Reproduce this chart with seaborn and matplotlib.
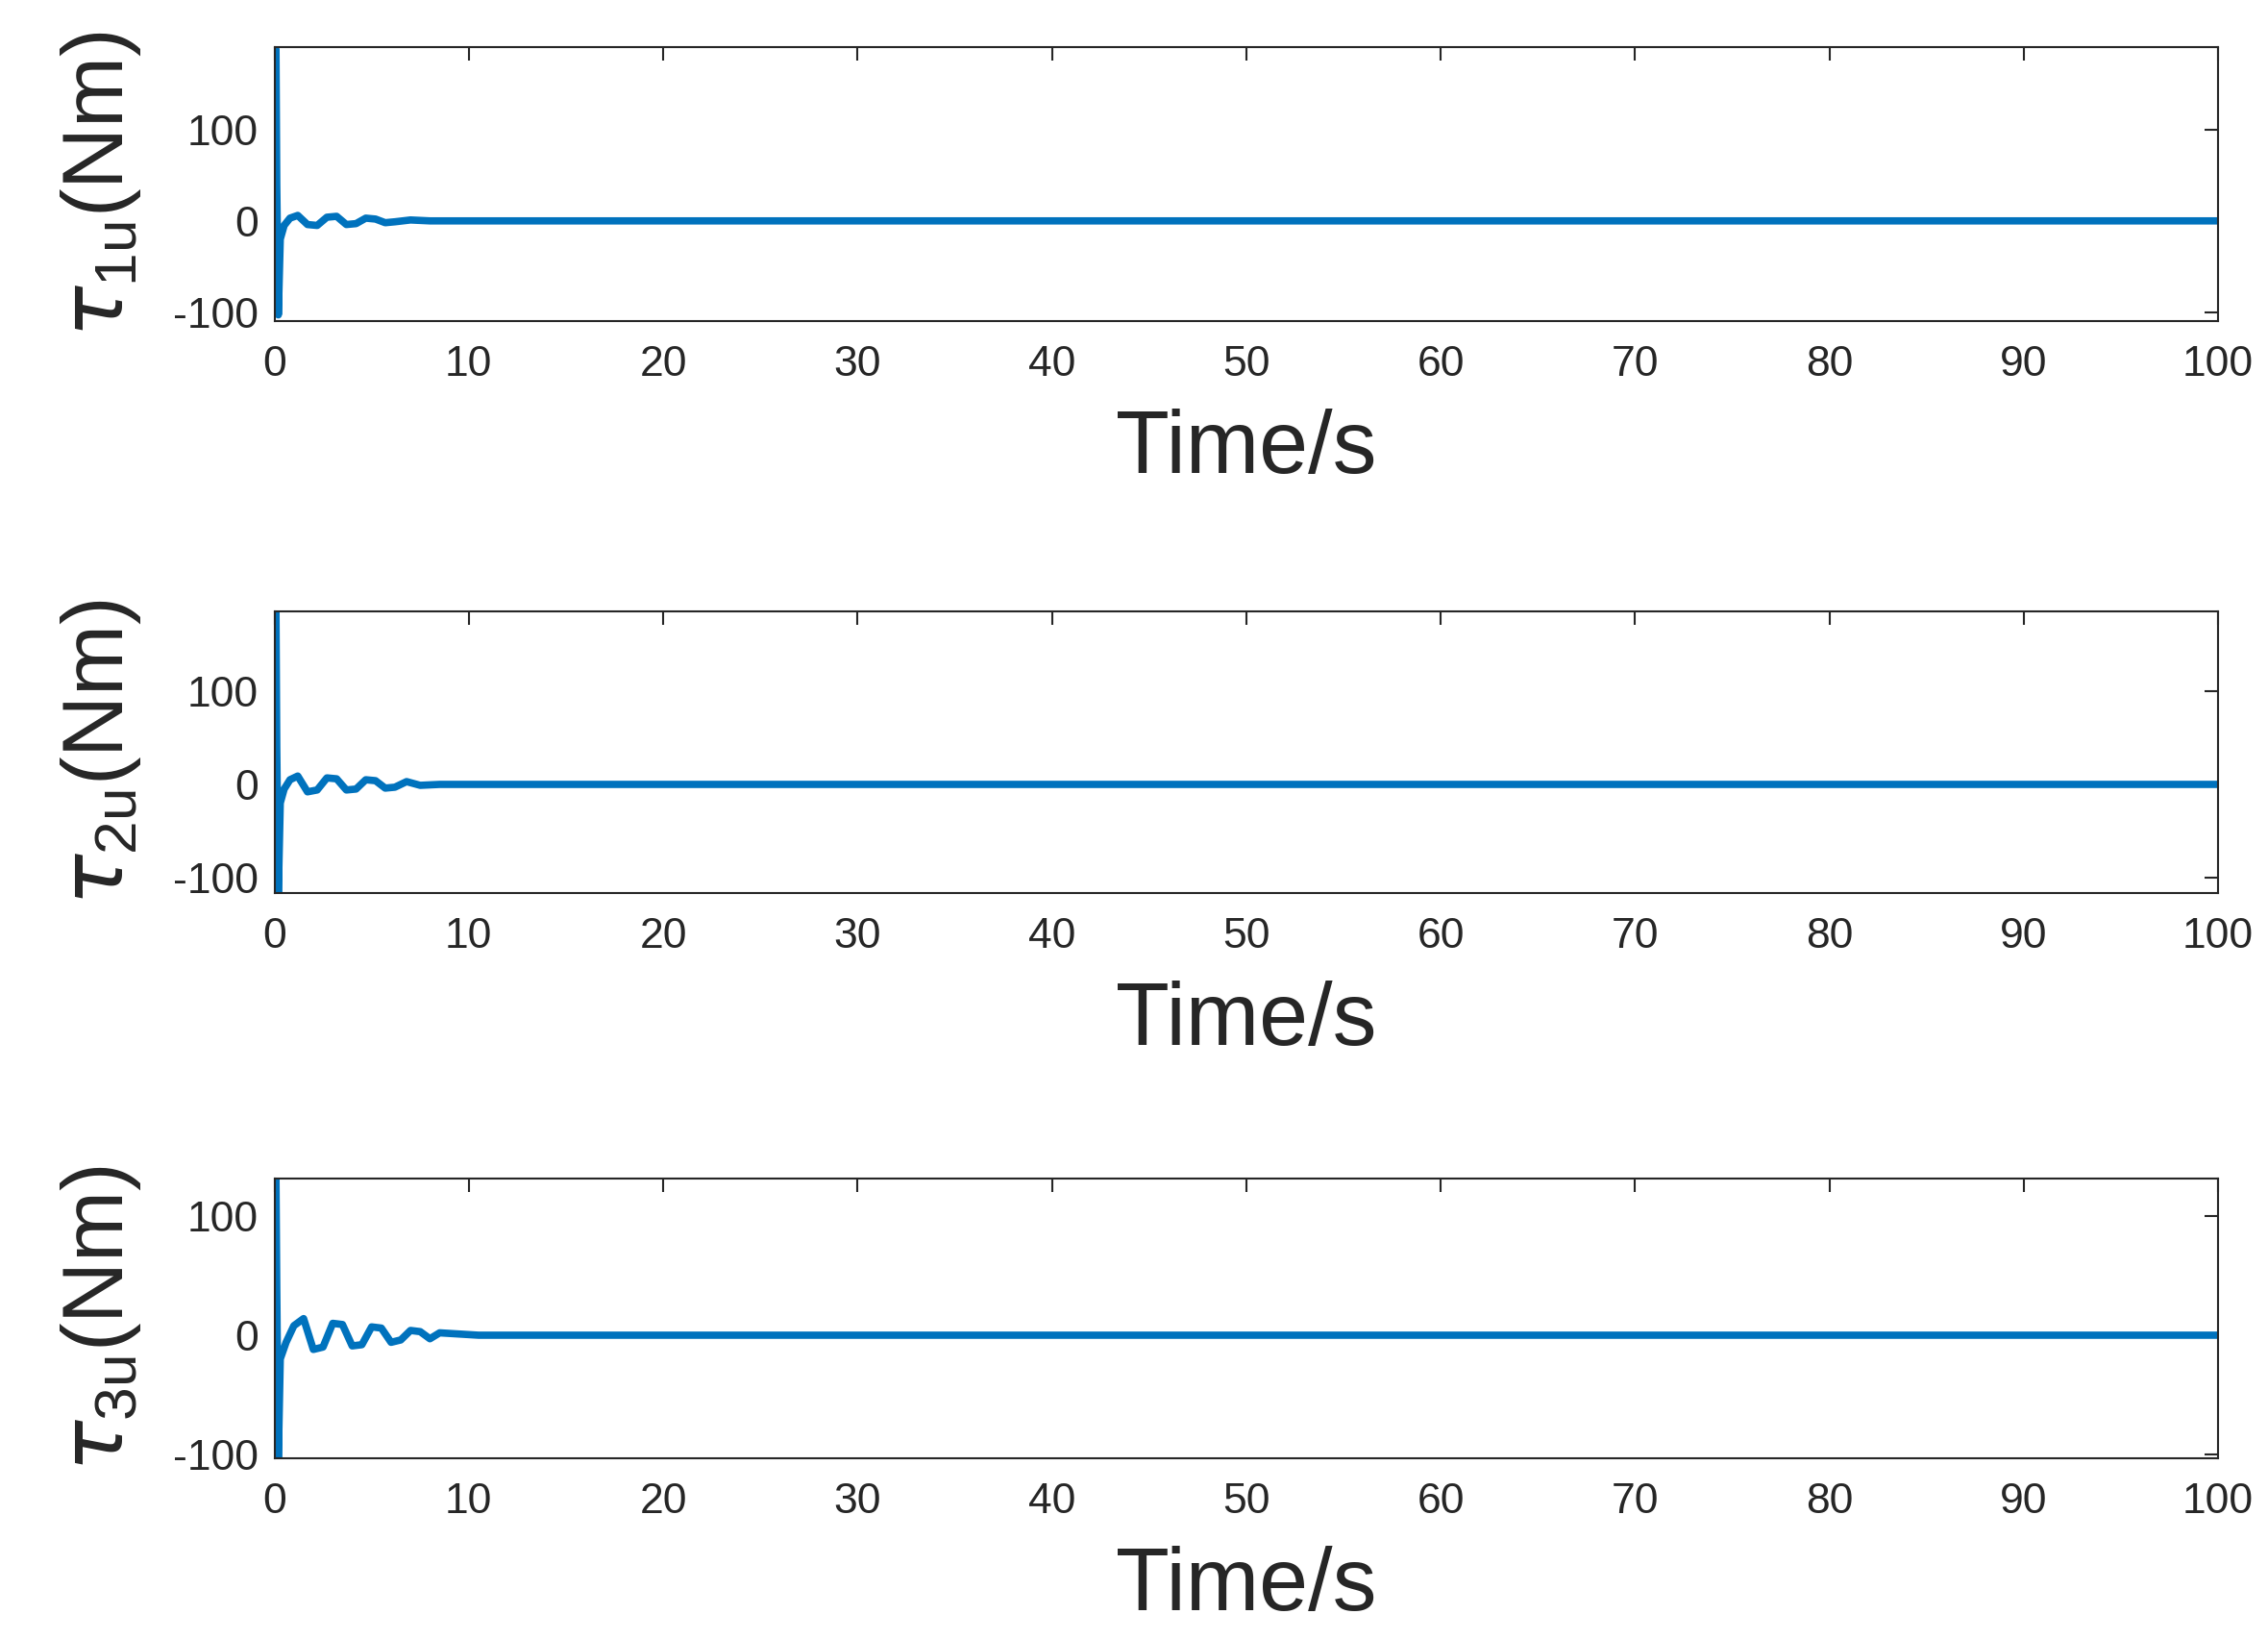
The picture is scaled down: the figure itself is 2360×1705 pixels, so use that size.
import numpy as np
import pandas as pd
import matplotlib
matplotlib.use("Agg")
import matplotlib.pyplot as plt
import seaborn as sns

t1 = [0, 0.08, 0.12, 0.2, 0.3, 0.5, 0.8, 1.2, 1.7, 2.2, 2.7, 3.2, 3.7, 4.2, 4.7, 5.2, 5.7, 6.2, 7, 8, 100]
tau1 = [0, 188, 40, -103, -20, -5, 3, 6, -4, -5, 4, 5, -4, -3, 3, 2, -2, -1, 1, 0, 0]

t2 = [0, 0.08, 0.12, 0.2, 0.3, 0.5, 0.8, 1.2, 1.7, 2.2, 2.7, 3.2, 3.7, 4.2, 4.7, 5.2, 5.7, 6.2, 6.8, 7.5, 8.5, 100]
tau2 = [0, 185, 40, -117, -20, -5, 5, 9, -8, -6, 7, 6, -6, -5, 5, 4, -4, -3, 3, -1, 0, 0]

t3 = [0, 0.08, 0.12, 0.2, 0.3, 0.6, 1.0, 1.5, 2.0, 2.5, 3.0, 3.5, 4.0, 4.5, 5.0, 5.5, 6.0, 6.5, 7.0, 7.5, 8.0, 8.5, 9.5, 10.5, 11.5, 100]
tau3 = [0, 132, 40, -104, -20, -6, 8, 14, -12, -10, 10, 9, -9, -8, 7, 6, -6, -4, 4, 3, -3, 2, 1, 0, 0, 0]

names = ["1u", "2u", "3u"]
ylims = [(-110, 190), (-117, 186), (-104, 132)]
rects = [(0.121, 0.804, 0.857, 0.167), (0.121, 0.455, 0.857, 0.172), (0.121, 0.110, 0.857, 0.171)]

sns.set_style("white")
plt.rcParams["font.family"] = ["Liberation Sans", "DejaVu Sans"]
plt.rcParams["mathtext.fontset"] = "dejavusans"
plt.rcParams["axes.unicode_minus"] = False

fig = plt.figure(figsize=(23.6, 17.05), dpi=100)
for (t, v), name, yl, r in zip([(t1, tau1), (t2, tau2), (t3, tau3)], names, ylims, rects):
    ax = fig.add_axes(r)
    df = pd.DataFrame({"t": t, "v": v})
    sns.lineplot(data=df, x="t", y="v", ax=ax, color="#0072BD", linewidth=5.5)
    ax.set_xlim(0, 100)
    ax.set_ylim(*yl)
    ax.set_xticks(range(0, 101, 10))
    ax.set_yticks([-100, 0, 100])
    ax.tick_params(direction="in", length=10, width=1.5, labelsize=32,
                   colors="#262626", top=True, right=True)
    ax.tick_params(axis="x", pad=18)
    ax.tick_params(axis="y", pad=12)
    for s in ax.spines.values():
        s.set_linewidth(1.5)
        s.set_color("#262626")
    ax.set_xlabel("Time/s", fontsize=66, color="#262626", labelpad=18)
    ax.set_ylabel(r"$\tau_{\mathregular{" + name + "}}$(Nm)", fontsize=64, color="#262626", labelpad=22)

fig.savefig("out.png", dpi=100)
